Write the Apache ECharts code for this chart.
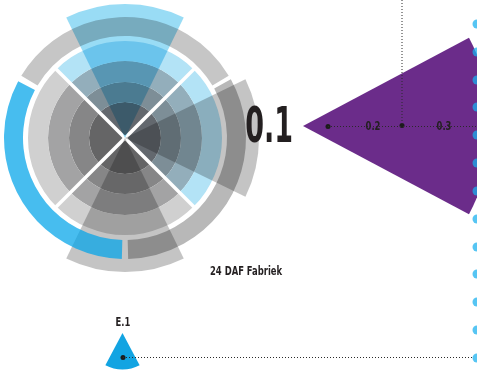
<!DOCTYPE html>
<html lang="nl">
<head>
<meta charset="UTF-8">
<title>24 DAF Fabriek</title>
<script src="https://cdn.jsdelivr.net/npm/echarts@6.0.0/dist/echarts.min.js"></script>
<style>
    html, body { margin: 0; padding: 0; background: #fff; }
    #main { width: 477px; height: 372px; }
</style>
</head>
<body>
<div id="main"></div>
<script>
// rose: ring edges and quadrant borders (degrees, 0 = 3 o'clock, counter-clockwise)
var ringRadii = [0, 36, 56, 77, 97];
var quadrantAngles = [-45, 45, 135, 225, 315];
var quadrantTone = ['blue', 'blue', 'gray', 'gray'];

// outer band pieces (the blue one is drawn last, over the spotlight)
var bandRadii = [102, 121];
var bandFrom = [31, 271.5];
var bandTo = [149, 389];
var blueArc = [152, 268.5];

// the three spotlights over the rose
var spotCenters = [90, 0, 270];
var spotHalfWidth = 26;
var spotRadius = 134;

// white cross
var dividerAngles = [45, 135, 225, 315];
var dividerRadius = 98;

// wedges (degrees)
var wedgeNames = ['0.1', 'E.1'];
var wedgeSpan = [56, 56];

// dotted guides and points (x, y on the page scale)
var mainLine = [[328, 126.5], [477, 126.5]];
var dropLine = [[402, 0], [402, 125.5]];
var e1Line = [[123, 357.5], [474, 357.5]];
var pinPoints = [[328, 126.5], [402, 125.5], [123, 357.5]];
var tickLabels = ['0.2', '0.3'];
var tickX = [373, 444];
var dotColumnY = [-2, 24, 52, 80, 107, 135, 163, 191, 219, 247, 274, 302, 330, 358];

var shades = {
    blue: ['#63686e', '#7d8e97', '#93aebb', '#b3e3f6'],
    gray: ['#656566', '#868687', '#a3a3a4', '#d0d0d0']
};
var bandColors = ['#c6c6c6', '#b8b8b8'];
var spotColors = ['#99dcf5', '#c4c4c4', '#c4c4c4'];
var font = "'DejaVu Sans Condensed', 'DejaVu Sans', sans-serif";

var ringData = [];
for (var q = 0; q < 4; q++) {
    for (var k = 0; k < 4; k++) {
        ringData.push({
            value: [ringRadii[k], ringRadii[k + 1], quadrantAngles[q], quadrantAngles[q + 1]],
            itemStyle: { color: shades[quadrantTone[q]][k] }
        });
    }
}
var bandData = [];
for (var i = 0; i < bandFrom.length; i++) {
    bandData.push({ value: [bandRadii[0], bandRadii[1], bandFrom[i], bandTo[i]], itemStyle: { color: bandColors[i] } });
}
var spotData = [];
for (var i = 0; i < spotCenters.length; i++) {
    spotData.push({
        value: [0, spotRadius, spotCenters[i] - spotHalfWidth, spotCenters[i] + spotHalfWidth],
        itemStyle: { color: spotColors[i] }
    });
}
var dividerData = dividerAngles.map(function (a) { return [dividerRadius, a]; });

function renderSector(params, api) {
    var p0 = api.coord([api.value(0), api.value(2)]);
    var p1 = api.coord([api.value(1), api.value(3)]);
    return {
        type: 'sector',
        shape: {
            cx: params.coordSys.cx, cy: params.coordSys.cy,
            r0: p0[2], r: p1[2],
            startAngle: -p1[3], endAngle: -p0[3], clockwise: true
        },
        style: { fill: api.visual('color') }
    };
}

function renderDivider(params, api) {
    var c = api.coord([0, 0]);
    var p = api.coord([api.value(0), api.value(1)]);
    return {
        type: 'line',
        shape: { x1: c[0], y1: c[1], x2: p[0], y2: p[1] },
        style: { stroke: '#fff', lineWidth: 3.5 }
    };
}

function wedge(center, radius, start, span, color) {
    return {
        type: 'pie', center: center, radius: [0, radius], startAngle: start, clockwise: true,
        silent: true, label: { show: false }, labelLine: { show: false },
        itemStyle: { borderWidth: 0 },
        data: [
            { value: span, itemStyle: { color: color } },
            { value: 360 - span, itemStyle: { color: 'rgba(0,0,0,0)' } }
        ]
    };
}

function guide(points) {
    return {
        type: 'line', data: points, showSymbol: false, silent: true,
        lineStyle: { color: '#2a2a2a', width: 1, type: [1, 2] }
    };
}

function label(text, x, y, size, align, sx) {
    return {
        type: 'text', x: x, y: y, scaleX: sx, z: 100,
        style: { text: text, font: 'bold ' + size + 'px ' + font, fill: '#231f20', align: align, verticalAlign: 'middle' }
    };
}

var myChart = echarts.init(document.getElementById('main'));
var option = {
    backgroundColor: '#fff',
    animation: false,
    polar: { center: [125, 138], radius: 134 },
    radiusAxis: { type: 'value', min: 0, max: 134, show: false },
    angleAxis: { type: 'value', min: 0, max: 360, startAngle: 0, clockwise: false, show: false },
    grid: { left: 0, right: 0, top: 0, bottom: 0 },
    xAxis: { type: 'value', min: 0, max: 477, show: false },
    yAxis: { type: 'value', min: 0, max: 372, inverse: true, show: false },
    series: [
        { type: 'custom', coordinateSystem: 'polar', silent: true, renderItem: renderSector, data: ringData },
        { type: 'custom', coordinateSystem: 'polar', silent: true, renderItem: renderSector, data: bandData },
        { type: 'custom', coordinateSystem: 'polar', silent: true, renderItem: renderDivider, data: dividerData },
        { type: 'custom', coordinateSystem: 'polar', silent: true, renderItem: renderSector, data: spotData, blendMode: 'multiply' },
        {
            type: 'custom', coordinateSystem: 'polar', silent: true, renderItem: renderSector,
            data: [[bandRadii[0], bandRadii[1], blueArc[0], blueArc[1]]],
            itemStyle: { color: 'rgba(0, 164, 233, 0.72)' }
        },
        wedge([303, 126], 188, 28, wedgeSpan[0], '#6b2c8a'),
        wedge([122.5, 333], 36.5, -62, wedgeSpan[1], '#12a4e2'),
        guide(mainLine),
        guide(dropLine),
        guide(e1Line),
        {
            type: 'scatter', data: pinPoints, symbolSize: 5, silent: true,
            itemStyle: { color: '#1b1b1b', opacity: 1 }
        },
        {
            type: 'scatter', silent: true, symbolSize: 9,
            data: dotColumnY.map(function (y) { return [477, y]; }),
            itemStyle: { color: '#17afee', opacity: 0.73 }
        }
    ],
    graphic: [
        label(wedgeNames[0], 293, 129, 50, 'right', 0.6),
        label(tickLabels[0], tickX[0], 127, 12, 'center', 0.78),
        label(tickLabels[1], tickX[1], 127, 12, 'center', 0.78),
        label('24 DAF Fabriek', 210, 272, 12, 'left', 0.78),
        label(wedgeNames[1], 123, 323, 12, 'center', 0.78)
    ]
};
myChart.setOption(option);
</script>
</body>
</html>
